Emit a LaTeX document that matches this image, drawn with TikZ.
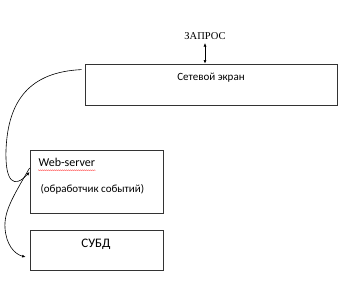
\documentclass[tikz,border=0pt]{standalone}
\usepackage{fontspec}
\setmainfont{Carlito}
\newfontfamily\serifru{Liberation Serif}
\usetikzlibrary{arrows.meta,decorations.pathmorphing}

\tikzset{
  blok/.style={draw=black!80, line width=0.8pt, inner sep=0pt},
  svyaz/.style={line width=0.6pt, -{Latex[length=3.5pt,width=3pt]}},
}

\begin{document}
\begin{tikzpicture}[x=1pt, y=-1pt, font=\fontsize{11}{13}\selectfont]

  %% ---- блоки ----
  \node[blok, minimum width=252pt, minimum height=41pt] (ekran) at (211,84.5) {};
  \node[blok, minimum width=133pt, minimum height=63pt] (server) at (96.5,181.5) {};
  \node[blok, minimum width=133pt, minimum height=40pt] (subd) at (96.5,250) {};

  %% ---- тексты ----
  \node (ekrantxt) at (211,78) {Сетевой экран};
  \node[font=\serifru\fontsize{10.5}{12}\selectfont] (zapros) at (205,36) {ЗАПРОС};
  \node[anchor=west, font=\fontsize{12}{14}\selectfont] (webtxt) at (35,162) {Web-server};
  \node[anchor=west] (obrtxt) at (37,189) {(обработчик событий)};
  \node[font=\fontsize{13}{15}\selectfont] (subdtxt) at (96,244) {СУБД};
  \draw[red!80, line width=0.3pt, decorate, decoration={snake, amplitude=0.4pt, segment length=2pt}]
    ([xshift=3pt,yshift=-0.5pt]webtxt.south west) -- ([xshift=-3pt,yshift=-0.5pt]webtxt.south east);

  %% ---- точки концов ----
  \coordinate (c1) at ([shift={(-3,6)}]ekran.north west);
  \coordinate (c2) at ([yshift=9.5]server.west);
  \coordinate (c3) at ([yshift=13.5]server.west);
  \coordinate (c4) at ([shift={(-4,7)}]subd.west);
  \coordinate (vhod) at (zapros.south |- ekran.north);

  %% ---- связи ----
  \draw[line width=0.6pt, {Latex[length=3.5pt,width=3pt]}-{Latex[length=3.5pt,width=3pt]}]
    (zapros.south) -- (vhod);
  \draw[svyaz] (c1) .. controls (30,72) and (8,100) .. (6,150)
    .. controls (5,182) and (14,189) .. (c2);
  \draw[svyaz] (c3) .. controls (12,198) and (4,212) .. (5,228)
    .. controls (6,244) and (14,254) .. (c4);

  \pgfresetboundingbox
  \path[use as bounding box] (0,0) rectangle (351,283);
\end{tikzpicture}
\end{document}
